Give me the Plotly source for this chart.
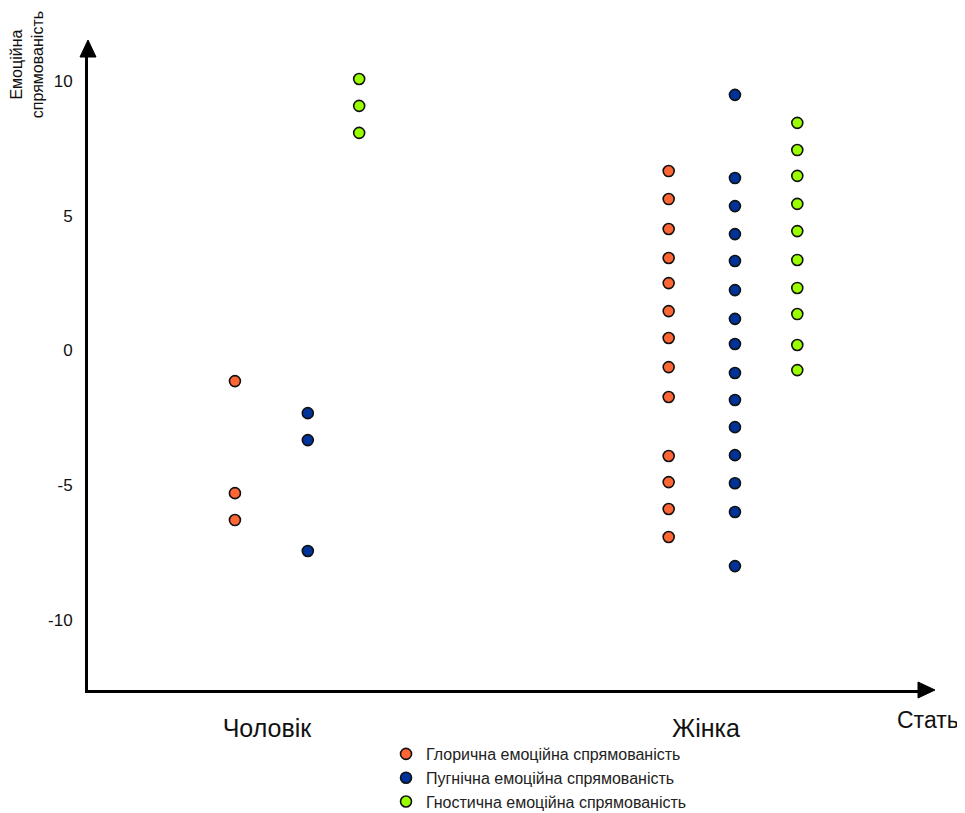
import plotly.graph_objects as go

# ---- data ----
categories = ["Чоловік", "Жінка"]
series_names = [
    "Глорична емоційна спрямованість",
    "Пугнічна емоційна спрямованість",
    "Гностична емоційна спрямованість",
]

glory_men = [-1.14, -5.30, -6.30]
pugn_men = [-2.33, -3.33, -7.45]
gnost_men = [10.08, 9.08, 8.08]

glory_women = [6.66, 5.62, 4.51, 3.43, 2.50, 1.46, 0.46, -0.62, -1.73,
               -3.92, -4.89, -5.89, -6.93]
pugn_women = [9.49, 6.40, 5.36, 4.32, 3.32, 2.24, 1.17, 0.24, -0.84,
              -1.84, -2.85, -3.89, -4.93, -6.00, -8.01]
gnost_women = [8.45, 7.44, 6.48, 5.44, 4.43, 3.36, 2.32, 1.35, 0.20, -0.73]

y_ticks = [10, 5, 0, -5, -10]

# ---- styling ----
colors = ["#FF6633", "#003399", "#99FF00"]
# horizontal offset of each series within its category (layout only)
offsets = {
    "Чоловік": [-0.073, 0.093, 0.210],
    "Жінка": [-0.085, 0.066, 0.208],
}
FONT = "Liberation Sans, Arial, sans-serif"

data = {
    "Чоловік": [glory_men, pugn_men, gnost_men],
    "Жінка": [glory_women, pugn_women, gnost_women],
}

fig = go.Figure()
for s, name in enumerate(series_names):
    for c, cat in enumerate(categories):
        vals = data[cat][s]
        fig.add_trace(go.Scatter(
            x=[c + offsets[cat][s]] * len(vals),
            y=vals,
            mode="markers",
            name=name,
            showlegend=(c == 0),
            marker=dict(size=11, color=colors[s],
                        line=dict(color="#111111", width=1.6)),
        ))

fig.update_layout(
    width=957, height=805,
    margin=dict(l=80, r=45, t=47, b=123, autoexpand=False),
    paper_bgcolor="white", plot_bgcolor="white",
    font=dict(family=FONT, color="#111111"),
    showlegend=True,
    legend=dict(
        x=0.3582, y=-0.074, xanchor="left", yanchor="top",
        font=dict(size=16, color="#222222"),
        bgcolor="rgba(0,0,0,0)",
        tracegroupgap=0,
        itemclick=False,
    ),
    xaxis=dict(
        range=[-0.4077, 1.4875],
        tickmode="array", tickvals=[0, 1], ticktext=categories,
        tickfont=dict(size=25, color="#111111"),
        ticks="", showgrid=False, zeroline=False,
        showline=True, linecolor="black", linewidth=3,
        ticklabelstandoff=14,
    ),
    yaxis=dict(
        range=[-12.61, 10.97],
        tickmode="array", tickvals=y_ticks, ticktext=[str(v) for v in y_ticks],
        tickfont=dict(size=17, color="#111111"),
        ticks="", showgrid=False, zeroline=False,
        showline=True, linecolor="black", linewidth=3,
        ticklabelstandoff=9,
    ),
)

# arrowheads
fig.add_shape(type="path", xref="paper", yref="paper",
              xsizemode="pixel", ysizemode="pixel", xanchor=1, yanchor=0,
              path="M -2,8 L -2,-8 L 15,0 Z",
              fillcolor="black", line=dict(color="black", width=1))
fig.add_shape(type="path", xref="paper", yref="paper",
              xsizemode="pixel", ysizemode="pixel", xanchor=0, yanchor=1,
              path="M -8,-2 L 8,-2 L 0,15 Z",
              fillcolor="black", line=dict(color="black", width=1))

# axis titles
fig.add_annotation(text="Стать", xref="paper", yref="paper",
                   x=1.0095, y=-0.047, xanchor="center", yanchor="middle",
                   showarrow=False, font=dict(size=23, color="#111111"))
fig.add_annotation(text="Емоційна<br>спрямованість", xref="paper", yref="paper",
                   x=-0.0733, y=0.984, xanchor="center", yanchor="middle",
                   textangle=-90, showarrow=False,
                   font=dict(size=16, color="#111111"))

fig.write_html("out.html")
